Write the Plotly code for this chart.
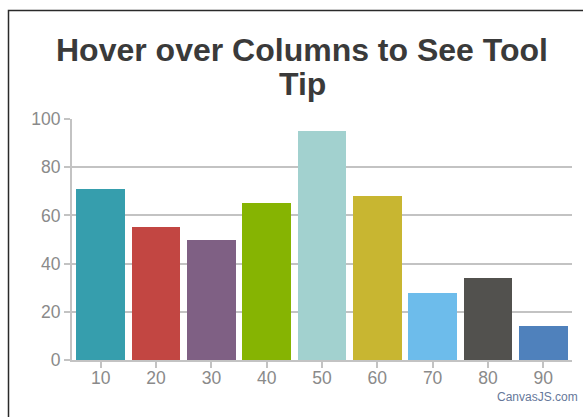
import plotly.graph_objects as go

# Column data
x_values = [10, 20, 30, 40, 50, 60, 70, 80, 90]
y_values = [71, 55, 50, 65, 95, 68, 28, 34, 14]
bar_colors = ["#369EAD", "#C24642", "#7F6084", "#86B402", "#A2D1CF",
              "#C8B631", "#6DBCEB", "#52514E", "#4F81BC"]
y_ticks = [0, 20, 40, 60, 80, 100]
title_lines = ["Hover over Columns to See Tool", "Tip"]
credit_text = "CanvasJS.com"

W, H = 583, 417
ML, MR, MT, MB = 72, 11, 119, 57
PW = W - ML - MR
PH = H - MT - MB


def px_x(px):
    return (px - ML) / PW


def px_y(py):
    return (H - MB - py) / PH


grid_col = "#c3c3c3"
label_col = "#8a8a8a"
font_family = "Liberation Sans, Arial, sans-serif"

fig = go.Figure(
    go.Bar(
        x=x_values,
        y=y_values,
        width=8.8,
        marker=dict(color=bar_colors, line=dict(width=0)),
        hovertemplate="%{x}: %{y}<extra></extra>",
    )
)

fig.update_layout(
    width=W,
    height=H,
    margin=dict(l=ML, r=MR, t=MT, b=MB, pad=0),
    paper_bgcolor="white",
    plot_bgcolor="white",
    showlegend=False,
    bargap=0,
    font=dict(family=font_family, color=label_col, size=17.5),
)

fig.update_xaxes(
    range=[4.8, 95.2],
    tickvals=x_values,
    ticktext=[str(v) for v in x_values],
    showgrid=False,
    zeroline=False,
    showline=True,
    linecolor=grid_col,
    linewidth=2,
    ticks="outside",
    ticklen=6,
    tickwidth=2,
    tickcolor=grid_col,
    ticklabelstandoff=-5,
    tickfont=dict(size=17.5, color=label_col),
)

fig.update_yaxes(
    range=[0, 100],
    tickvals=y_ticks,
    showgrid=True,
    gridcolor=grid_col,
    gridwidth=2,
    zeroline=False,
    showline=True,
    linecolor=grid_col,
    linewidth=2,
    ticks="outside",
    ticklen=6,
    tickwidth=2,
    tickcolor=grid_col,
    tickfont=dict(size=17.5, color=label_col),
)

# Chart frame (extends past the visible page on the right and bottom)
fig.add_shape(
    type="rect",
    xref="paper", yref="paper",
    x0=px_x(8.5), x1=px_x(W + 20),
    y0=px_y(H + 20), y1=px_y(10.5),
    line=dict(color="#2a2a2a", width=1.5),
    fillcolor="rgba(0,0,0,0)",
    layer="above",
)

# Two-line title
title_baselines = [62.5, 96.5]
for text, base in zip(title_lines, title_baselines):
    fig.add_annotation(
        text=f"<b>{text}</b>",
        xref="paper", yref="paper",
        x=px_x(302), y=px_y(base + 7),
        xanchor="center", yanchor="bottom",
        showarrow=False,
        font=dict(family=font_family, size=32, color="#3a3a3a"),
    )

fig.add_annotation(
    text=credit_text,
    xref="paper", yref="paper",
    x=px_x(580), y=px_y(397),
    xanchor="right", yanchor="middle",
    showarrow=False,
    font=dict(family=font_family, size=12, color="#66789a"),
)

fig.write_html("out.html")
